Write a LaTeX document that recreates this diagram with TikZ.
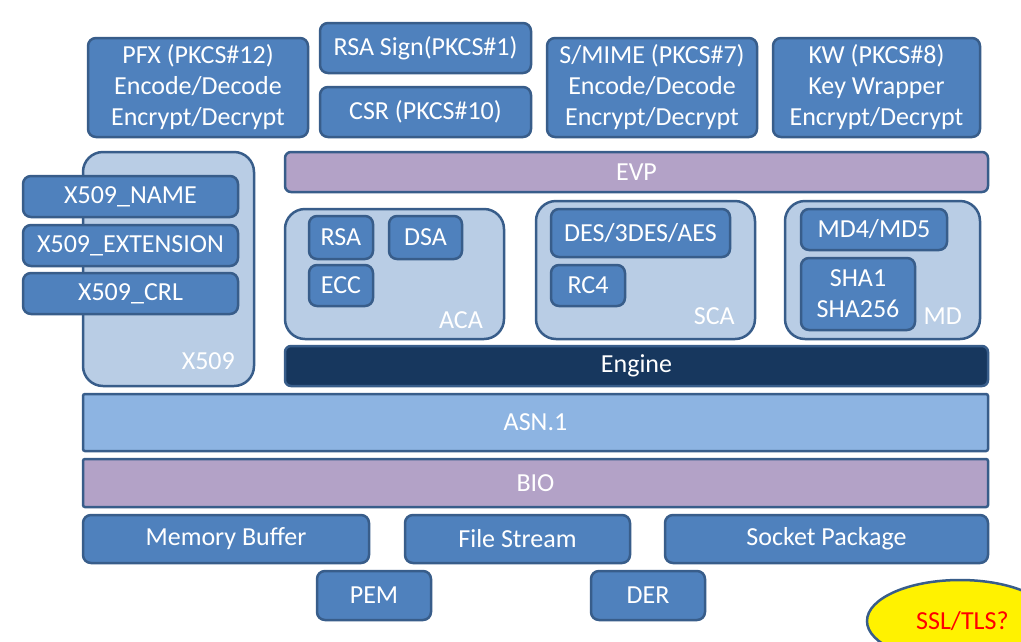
\documentclass[tikz,border=0pt]{standalone}
\usepackage{fontspec}
\setmainfont{Carlito}
\usetikzlibrary{shapes.geometric}
\definecolor{bfill}{HTML}{4F81BD}
\definecolor{bline}{HTML}{385D8A}
\definecolor{lfill}{HTML}{B9CDE5}
\definecolor{pfill}{HTML}{B3A2C7}
\definecolor{afill}{HTML}{8DB4E2}
\definecolor{efill}{HTML}{17375E}
\tikzset{
  base/.style={draw=bline, line width=2.5pt, text=white, align=center, inner sep=0pt,
    font=\fontsize{26}{31}\selectfont},
  blk/.style={base, fill=bfill, rounded corners=8pt},
  cont/.style={base, fill=lfill, rounded corners=20pt},
  bar/.style={base, fill=pfill, rounded corners=6pt},
  lbl/.style={text=white, anchor=east, inner sep=0pt, font=\fontsize{26}{30}\selectfont},
  sz/.style n args={2}{minimum width=#1pt, minimum height=#2pt},
}
\begin{document}
\begin{tikzpicture}[x=1pt,y=-1pt]
\useasboundingbox (0,0) rectangle (1021,641);
\clip (0,0) rectangle (1021,641);
\fill[white] (0,0) rectangle (1021,641);
% top row
\node[blk, sz={220}{99}] (pfx) at (198,87.5) {PFX (PKCS\#12)\\Encode/Decode\\Encrypt/Decrypt};
\node[blk, sz={211}{50}] (rsasign) at (425.5,48) {RSA Sign(PKCS\#1)};
\node[blk, sz={211}{50}] (csr) at (425.5,112) {CSR (PKCS\#10)};
\node[blk, sz={210}{99}] (smime) at (652,87.5) {S/MIME (PKCS\#7)\\Encode/Decode\\Encrypt/Decrypt};
\node[blk, sz={207}{99}] (kw) at (876.5,87.5) {KW (PKCS\#8)\\Key Wrapper\\Encrypt/Decrypt};
% EVP
\node[bar, sz={703}{40}] (evp) at (636.5,172) {EVP};
% X509
\node[cont, sz={171}{234}] (x509) at (168.5,269) {};
\node[lbl] (x509l) at (235,361) {X509};
\node[blk, sz={215}{41}] (xname) at (130.5,196.5) {X509\_NAME};
\node[blk, sz={215}{41}] (xext) at (130.5,245.5) {X509\_EXTENSION};
\node[blk, sz={215}{41}] (xcrl) at (130.5,293.5) {X509\_CRL};
% ACA
\node[cont, sz={219}{130}] (aca) at (394.5,274) {};
\node[lbl] (acal) at (483,320) {ACA};
\node[blk, sz={64}{43}] (rsa) at (341,237.5) {RSA};
\node[blk, sz={73}{43}] (dsa) at (425.5,237.5) {DSA};
\node[blk, sz={64}{41}] (ecc) at (341,285.5) {ECC};
% SCA
\node[cont, sz={219}{138}] (sca) at (645.5,270) {};
\node[lbl] (scal) at (735,316) {SCA};
\node[blk, sz={179}{48}] (des) at (640.5,233) {DES/3DES/AES};
\node[blk, sz={74}{41}] (rc4) at (588,285.5) {RC4};
% MD
\node[cont, sz={195}{138}] (md) at (882.5,270) {};
\node[lbl] (mdl) at (962,316) {MD};
\node[blk, sz={146}{41}] (md45) at (874,229.5) {MD4/MD5};
\node[blk, sz={114}{72}] (sha) at (858,294) {SHA1\\SHA256};
% Engine
\node[base, fill=efill, rounded corners=6pt, sz={703}{40}] (engine) at (636.5,366) {Engine};
% ASN.1 and BIO
\node[base, fill=afill, rounded corners=2pt, sz={905}{57}] (asn) at (535.5,422.5) {ASN.1};
\node[bar, rounded corners=2pt, sz={905}{48}] (bio) at (535.5,483) {BIO};
% bottom
\node[blk, sz={286}{48}] (mem) at (226,539) {Memory Buffer};
\node[blk, sz={225}{48}] (file) at (517.5,539) {File Stream};
\node[blk, sz={323}{48}] (sock) at (826.5,539) {Socket Package};
\node[blk, sz={114}{49}] (pem) at (374,595.5) {PEM};
\node[blk, sz={114}{49}] (der) at (648,595.5) {DER};
% SSL/TLS
\node[ellipse, draw=bline, line width=2.5pt, fill=yellow, minimum width=186pt, minimum height=82pt, inner sep=0pt] (ssl) at (960,621) {};
\node[text=red, anchor=west, inner sep=0pt, font=\fontsize{26}{30}\selectfont] (ssll) at (916,621) {SSL/TLS?};
\end{tikzpicture}
\end{document}
